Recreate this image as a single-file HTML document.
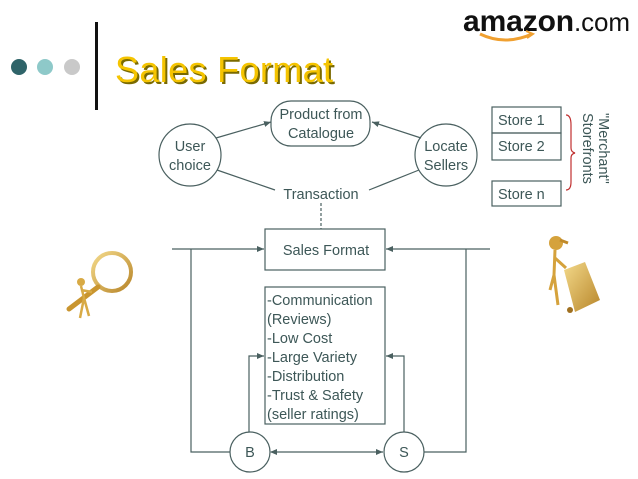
<!DOCTYPE html>
<html><head><meta charset="utf-8"><style>
html,body{margin:0;padding:0;background:#fff;}
svg{display:block;}
text{font-family:"Liberation Sans",sans-serif;fill:#3d5757;}
</style></head><body>
<svg width="638" height="479" viewBox="0 0 638 479" xmlns="http://www.w3.org/2000/svg">
<defs>
<marker id="a" markerWidth="8" markerHeight="8" refX="7" refY="4" orient="auto" markerUnits="userSpaceOnUse"><path d="M0,1 L7,4 L0,7 z" fill="#4a6060"/></marker>
<marker id="as" markerWidth="8" markerHeight="8" refX="1" refY="4" orient="auto" markerUnits="userSpaceOnUse"><path d="M7,1 L0,4 L7,7 z" fill="#4a6060"/></marker>
<linearGradient id="g" x1="0" y1="0" x2="1" y2="1"><stop offset="0" stop-color="#f3d98a"/><stop offset="1" stop-color="#b8862a"/></linearGradient>
</defs>
<circle cx="19" cy="67" r="8" fill="#2f6469"/>
<circle cx="45" cy="67" r="8" fill="#8ec9c9"/>
<circle cx="72" cy="67" r="8" fill="#c9c9c9"/>
<rect x="95" y="22" width="3" height="88" fill="#111"/>
<text x="117" y="84" font-size="36" textLength="218" style="fill:#7a6a00">Sales Format</text>
<text x="115" y="82" font-size="36" textLength="218" style="fill:#f5c400">Sales Format</text>
<text x="463" y="31" font-size="30" font-weight="bold" textLength="167" style="fill:#111">amazon<tspan font-weight="normal" font-size="26">.com</tspan></text>
<path d="M480,34 Q505,46 532,34" stroke="#f0a030" stroke-width="3" fill="none"/>
<path d="M526,31 L533,34 L527,38" stroke="#f0a030" stroke-width="2" fill="none"/>
<g stroke="#4a6060" stroke-width="1.2" fill="none">
<rect x="271" y="101" width="99" height="45" rx="20"/>
<circle cx="190" cy="155" r="31"/>
<circle cx="446" cy="155" r="31"/>
<line x1="216" y1="138" x2="271" y2="122" marker-end="url(#a)"/>
<line x1="421" y1="138" x2="372" y2="122" marker-end="url(#a)"/>
<line x1="217" y1="170" x2="275" y2="190"/>
<line x1="419" y1="170" x2="369" y2="190"/>
<line x1="321" y1="203" x2="321" y2="229" stroke-dasharray="3,2"/>
<rect x="265" y="229" width="120" height="41"/>
<rect x="265" y="287" width="120" height="137"/>
<line x1="172" y1="249" x2="264" y2="249" marker-end="url(#a)"/>
<line x1="490" y1="249" x2="386" y2="249" marker-end="url(#a)"/>
<polyline points="191,249 191,452 230,452"/>
<polyline points="466,249 466,452 424,452"/>
<circle cx="250" cy="452" r="20"/>
<circle cx="404" cy="452" r="20"/>
<line x1="271" y1="452" x2="383" y2="452" marker-start="url(#as)" marker-end="url(#a)"/>
<polyline points="249,432 249,356 264,356" marker-end="url(#a)"/>
<polyline points="404,432 404,356 386,356" marker-end="url(#a)"/>
<rect x="492" y="107" width="69" height="26"/>
<rect x="492" y="133" width="69" height="27"/>
<rect x="492" y="181" width="69" height="25"/>
</g>
<path d="M566,115 Q571,115 571,125 L571,148 Q571,152 575,153 Q571,154 571,158 L571,182 Q571,190 566,190" stroke="#c03030" stroke-width="1.2" fill="none"/>
<g font-size="14.5" text-anchor="middle">
<text x="321" y="119">Product from</text>
<text x="321" y="138">Catalogue</text>
<text x="190" y="151">User</text>
<text x="190" y="170">choice</text>
<text x="446" y="151">Locate</text>
<text x="446" y="170">Sellers</text>
<text x="321" y="199">Transaction</text>
<text x="326" y="255">Sales Format</text>
<text x="250" y="457">B</text>
<text x="404" y="457">S</text>
</g>
<g font-size="14.5">
<text x="498" y="125">Store 1</text>
<text x="498" y="151">Store 2</text>
<text x="498" y="199">Store n</text>
<text x="267" y="305">-Communication</text>
<text x="267" y="324">(Reviews)</text>
<text x="267" y="343">-Low Cost</text>
<text x="267" y="362">-Large Variety</text>
<text x="267" y="381">-Distribution</text>
<text x="267" y="400">-Trust &amp; Safety</text>
<text x="267" y="419">(seller ratings)</text>
</g>
<g font-size="14.5" transform="translate(583,113) rotate(90)">
<text x="0" y="-16">"Merchant"</text>
<text x="0" y="0">Storefronts</text>
</g>
<circle cx="112" cy="272" r="19" fill="none" stroke="url(#g)" stroke-width="4"/>
<line x1="98" y1="287" x2="69" y2="309" stroke="#c9952f" stroke-width="5" stroke-linecap="round"/>
<circle cx="81" cy="282" r="4" fill="#d8aa45"/>
<path d="M81,286 L84,298 L80,318 M84,298 L89,316 M81,290 L92,292" stroke="#d8aa45" stroke-width="2.5" fill="none"/>
<circle cx="556" cy="243" r="7" fill="#d5a23c"/>
<path d="M560,240 L568,243" stroke="#c08a2a" stroke-width="3"/>
<path d="M555,250 L554,275 L558,305 M554,275 L550,290 M555,258 L566,268" stroke="#d5a23c" stroke-width="3" fill="none"/>
<polygon points="564,270 585,262 600,300 575,312" fill="url(#g)"/>
<circle cx="570" cy="310" r="3" fill="#a07020"/>
</svg>
</body></html>
